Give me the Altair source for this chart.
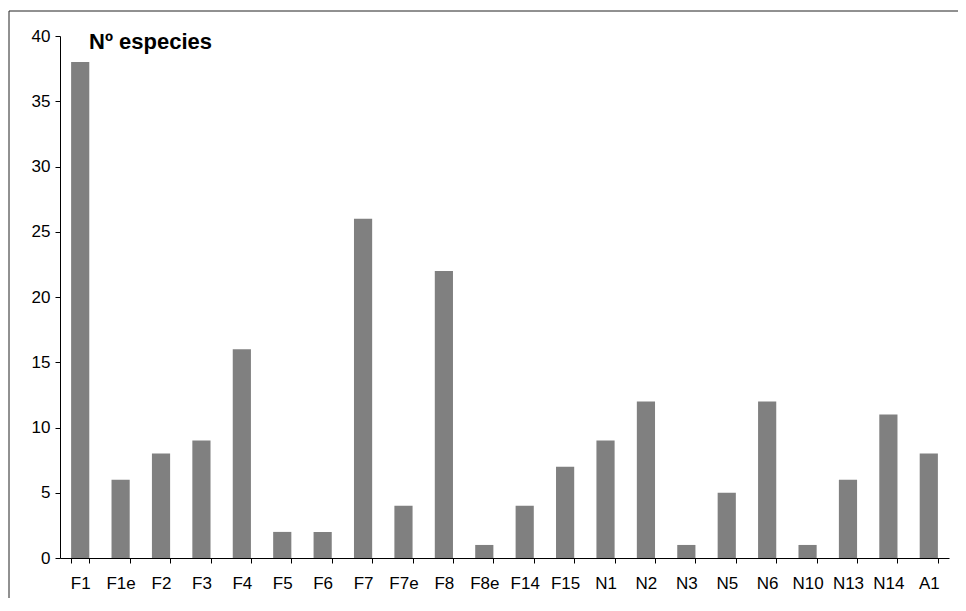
import altair as alt
import pandas as pd

categories = ["F1", "F1e", "F2", "F3", "F4", "F5", "F6", "F7", "F7e", "F8", "F8e",
              "F14", "F15", "N1", "N2", "N3", "N5", "N6", "N10", "N13", "N14", "A1"]
values = [38, 6, 8, 9, 16, 2, 2, 26, 4, 22, 1, 4, 7, 9, 12, 1, 5, 12, 1, 6, 11, 8]
y_ticks = [0, 5, 10, 15, 20, 25, 30, 35, 40]
title_text = "Nº especies"

df = pd.DataFrame({"cat": categories, "val": values})

bars = alt.Chart(df).mark_bar(color="#808080").encode(
    x=alt.X("cat:N", sort=categories,
            scale=alt.Scale(paddingInner=0.55, paddingOuter=0.275),
            axis=alt.Axis(title=None, labelAngle=0, tickBand="extent",
                          tickSize=5, labelPadding=12)),
    y=alt.Y("val:Q", scale=alt.Scale(domain=[0, 40], nice=False),
            axis=alt.Axis(title=None, values=y_ticks, tickSize=5,
                          labelPadding=5, grid=False)),
)

one = pd.DataFrame({"a": [0]})

label = alt.Chart(one).mark_text(
    text=title_text, align="left", baseline="alphabetic",
    fontSize=22, fontWeight="bold", font="Liberation Sans", color="black"
).encode(x=alt.value(29), y=alt.value(13))

frame_left = alt.Chart(one).mark_rule(color="#222222", strokeWidth=1).encode(
    x=alt.value(-51), y=alt.value(-25), y2=alt.value(600))
frame_top = alt.Chart(one).mark_rule(color="#222222", strokeWidth=1).encode(
    x=alt.value(-51), x2=alt.value(1000), y=alt.value(-25))

chart = alt.layer(bars, label, frame_left, frame_top).properties(
    width=889, height=522,
    autosize=alt.AutoSizeParams(type="none"),
    padding={"left": 52, "top": 28, "right": 9, "bottom": 40},
    background="white",
).configure_view(stroke=None).configure_axis(
    domainColor="black", tickColor="black", labelColor="black",
    labelFont="Liberation Sans", labelFontSize=17, grid=False,
)

chart.save("out.html", embed_options={"renderer": "svg", "actions": False})
